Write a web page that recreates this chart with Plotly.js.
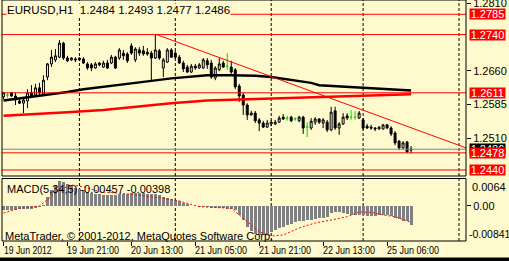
<!DOCTYPE html>
<html>
<head>
<meta charset="utf-8">
<script src="https://cdn.plot.ly/plotly-3.0.1.min.js"></script>
<style>html,body{margin:0;padding:0;background:#FFFACD;}#chart{width:509px;height:261px;}</style>
</head>
<body>
<div id="chart"></div>
<script>
// ---------- data ----------
const symbolTitle = 'EURUSD,H1  1.2484 1.2493 1.2477 1.2486';
const macdTitle = 'MACD(5,34,5) -0.00457 -0.00398';
const copyright = 'MetaTrader, \u00A9 2001-2012, MetaQuotes Software Corp.';

const openP = [1.2602,1.2606,1.2611,1.2604,1.2593,1.2588,1.2593,1.2611,1.2606,1.2622,
1.2608,1.2646,1.2675,1.2684,1.2690,1.2721,1.2688,1.2684,1.2686,1.2688,
1.2686,1.2675,1.2673,1.2666,1.2677,1.2668,1.2677,1.2677,1.2690,1.2688,
1.2699,1.2697,1.2715,1.2684,1.2706,1.2704,1.2701,1.2699,1.2688,1.2704,
1.2666,1.2679,1.2706,1.2699,1.2690,1.2677,1.2668,1.2657,1.2670,1.2666,
1.2666,1.2682,1.2677,1.2644,1.2662,1.2677,1.2670,1.2668,1.2662,1.2626,
1.2606,1.2584,1.2562,1.2566,1.2551,1.2544,1.2535,1.2542,1.2542,1.2546,
1.2557,1.2555,1.2557,1.2553,1.2549,1.2557,1.2535,1.2533,1.2546,1.2553,
1.2544,1.2546,1.2529,1.2571,1.2533,1.2542,1.2560,1.2557,1.2557,1.2555,
1.2551,1.2537,1.2535,1.2533,1.2531,1.2531,1.2540,1.2533,1.2522,1.2504,
1.2489,1.2502,1.2484];
const highP = [1.2613,1.2611,1.2613,1.2611,1.2597,1.2600,1.2619,1.2628,1.2631,1.2633,
1.2650,1.2677,1.2706,1.2708,1.2728,1.2724,1.2693,1.2690,1.2690,1.2690,
1.2690,1.2679,1.2677,1.2679,1.2679,1.2682,1.2684,1.2695,1.2693,1.2710,
1.2706,1.2701,1.2721,1.2712,1.2712,1.2715,1.2710,1.2704,1.2741,1.2708,
1.2688,1.2710,1.2710,1.2704,1.2695,1.2682,1.2673,1.2675,1.2675,1.2677,
1.2688,1.2688,1.2684,1.2670,1.2688,1.2682,1.2699,1.2682,1.2666,1.2631,
1.2611,1.2588,1.2571,1.2571,1.2555,1.2549,1.2551,1.2551,1.2551,1.2560,
1.2564,1.2560,1.2560,1.2557,1.2560,1.2560,1.2546,1.2555,1.2557,1.2555,
1.2555,1.2551,1.2580,1.2580,1.2546,1.2566,1.2566,1.2573,1.2571,1.2571,
1.2555,1.2542,1.2540,1.2535,1.2537,1.2542,1.2542,1.2537,1.2526,1.2506,
1.2504,1.2504,1.2493];
const lowP = [1.2597,1.2600,1.2602,1.2584,1.2586,1.2566,1.2577,1.2602,1.2604,1.2606,
1.2606,1.2639,1.2668,1.2679,1.2688,1.2684,1.2679,1.2682,1.2679,1.2682,
1.2675,1.2662,1.2659,1.2664,1.2670,1.2666,1.2664,1.2675,1.2664,1.2684,
1.2684,1.2677,1.2695,1.2679,1.2693,1.2693,1.2693,1.2635,1.2686,1.2684,
1.2646,1.2677,1.2688,1.2686,1.2675,1.2657,1.2655,1.2655,1.2662,1.2664,
1.2664,1.2664,1.2642,1.2639,1.2659,1.2666,1.2662,1.2650,1.2619,1.2591,
1.2562,1.2551,1.2560,1.2544,1.2526,1.2533,1.2533,1.2537,1.2540,1.2544,
1.2551,1.2549,1.2546,1.2549,1.2546,1.2520,1.2513,1.2529,1.2540,1.2542,
1.2533,1.2524,1.2526,1.2529,1.2518,1.2540,1.2551,1.2551,1.2551,1.2553,
1.2529,1.2531,1.2529,1.2526,1.2529,1.2529,1.2531,1.2515,1.2495,1.2484,
1.2487,1.2478,1.2477];
const closeP = [1.2611,1.2606,1.2604,1.2595,1.2588,1.2595,1.2611,1.2604,1.2622,1.2611,
1.2639,1.2675,1.2690,1.2693,1.2721,1.2688,1.2682,1.2688,1.2684,1.2684,
1.2677,1.2666,1.2666,1.2675,1.2673,1.2677,1.2666,1.2690,1.2666,1.2706,
1.2693,1.2682,1.2699,1.2708,1.2699,1.2697,1.2697,1.2688,1.2706,1.2688,
1.2684,1.2706,1.2690,1.2690,1.2677,1.2664,1.2657,1.2670,1.2666,1.2673,
1.2684,1.2673,1.2646,1.2666,1.2675,1.2668,1.2670,1.2657,1.2624,1.2604,
1.2584,1.2562,1.2566,1.2549,1.2544,1.2535,1.2544,1.2546,1.2546,1.2555,
1.2553,1.2555,1.2549,1.2553,1.2557,1.2533,1.2535,1.2548,1.2553,1.2546,
1.2551,1.2529,1.2568,1.2533,1.2542,1.2557,1.2555,1.2557,1.2557,1.2566,
1.2533,1.2533,1.2533,1.2531,1.2535,1.2540,1.2533,1.2520,1.2500,1.2489,
1.2500,1.2480,1.2486];

// moving averages
const maBlackX = [0,7,12,16,20,25,33,42,51,57,63,67,71,77,79,93,102];
const maBlackY = [1.2594,1.2602,1.2608,1.2613,1.2619,1.2624,1.2633,1.2643,1.2650,1.2650,1.2649,1.2646,1.2641,1.2633,1.2628,1.2621,1.2616];
const maRedX = [0,7,16,25,33,42,51,62,73,79,87,93,102];
const maRedY = [1.2560,1.2563,1.2568,1.2573,1.2580,1.2588,1.2594,1.2597,1.2601,1.2603,1.2605,1.2606,1.2608];

// MACD histogram and signal
const macdHist = [
-0.00100,-0.00100,-0.00112,-0.00100,-0.00088,-0.00076,-0.00065,-0.00065,-0.00041,-0.00029,
0.00019,0.00210,0.00377,0.00497,0.00581,0.00569,0.00509,0.00473,0.00437,0.00401,
0.00366,0.00330,0.00306,0.00282,0.00270,0.00258,0.00258,0.00258,0.00258,0.00270,
0.00282,0.00282,0.00294,0.00294,0.00294,0.00294,0.00282,0.00270,0.00282,0.00258,
0.00210,0.00198,0.00174,0.00139,0.00103,0.00067,0.00031,0.00007,-0.00005,-0.00017,
-0.00017,-0.00029,-0.00041,-0.00053,-0.00053,-0.00053,-0.00065,-0.00076,-0.00112,-0.00208,
-0.00339,-0.00506,-0.00614,-0.00674,-0.00698,-0.00686,-0.00662,-0.00626,-0.00578,-0.00530,
-0.00495,-0.00459,-0.00435,-0.00399,-0.00375,-0.00363,-0.00351,-0.00339,-0.00315,-0.00303,
-0.00280,-0.00256,-0.00184,-0.00148,-0.00160,-0.00172,-0.00196,-0.00208,-0.00220,-0.00208,
-0.00220,-0.00232,-0.00232,-0.00232,-0.00220,-0.00208,-0.00220,-0.00244,-0.00280,-0.00315,
-0.00363,-0.00375,-0.00457];
const sigX = [0,4,9,11,14,17,20,24,32,40,44,49,57,61,64,67,70,74,78,82,86,89,92,95,98,102];
const sigY = [-0.00172,-0.00060,-0.00005,0.00139,0.00377,0.00497,0.00456,0.00337,0.00275,0.00179,0.00115,-0.00021,-0.00060,-0.00380,-0.00619,-0.00721,-0.00698,-0.00530,-0.00411,-0.00339,-0.00260,-0.00148,-0.00155,-0.00220,-0.00260,-0.00398];

// objects
const hLevels = [1.2785,1.2740,1.2611,1.2478,1.2440];
const bidPrice = 1.2486;
const trendX = [38,115.75];
const trendY = [1.2741,1.2489];
const daySeparators = [19,43,67,90,114];

// axes
const xTickIdx = [0,16,32,48,64,80,96];
const xTickText = ['19 Jun 2012','19 Jun 21:00','20 Jun 13:00','21 Jun 05:00','21 Jun 21:00','22 Jun 13:00','25 Jun 06:00'];
const priceTicks = [1.2810,1.2660,1.2585,1.2510];
const macdTicks = [0];
const macdTickText = ['0.00'];
const macdMaxLabel = '0.0064';
const macdMinLabel = '-0.00841';

// ---------- drawing ----------
const BG = '#FFFACD';
const FONT = '"Liberation Sans Narrow", "Liberation Sans", Arial, sans-serif';
const idx = openP.map((_, i) => i);
const body = idx.filter(i => openP[i] !== closeP[i]);
const doji = idx.filter(i => openP[i] === closeP[i]);
const pick = (arr, ids) => ids.map(i => arr[i]);

const traces = [
  {type:'scatter', mode:'lines', x:maRedX, y:maRedY, line:{color:'#ff0000', width:2.5}, xaxis:'x', yaxis:'y', hoverinfo:'skip'},
  {type:'scatter', mode:'lines', x:maBlackX, y:maBlackY, line:{color:'#000000', width:2.5}, xaxis:'x', yaxis:'y', hoverinfo:'skip'},
  {type:'candlestick', x:body, open:pick(openP,body), high:pick(highP,body), low:pick(lowP,body), close:pick(closeP,body),
   increasing:{line:{color:'#000000', width:1}, fillcolor:BG},
   decreasing:{line:{color:'#000000', width:1}, fillcolor:'#000000'},
   whiskerwidth:0, xaxis:'x', yaxis:'y', hoverinfo:'skip'},
  {type:'candlestick', x:doji, open:pick(openP,doji), high:pick(highP,doji), low:pick(lowP,doji), close:pick(closeP,doji),
   increasing:{line:{color:'#00e000', width:1}, fillcolor:'#00e000'},
   decreasing:{line:{color:'#00e000', width:1}, fillcolor:'#00e000'},
   whiskerwidth:0, xaxis:'x', yaxis:'y', hoverinfo:'skip'},
  {type:'bar', x:idx, y:macdHist, width:0.75, marker:{color:'#808080', line:{width:0}}, xaxis:'x2', yaxis:'y2', hoverinfo:'skip'},
  {type:'scatter', mode:'lines', x:sigX, y:sigY, line:{color:'#ff0000', width:1, dash:'2px,2px'}, xaxis:'x2', yaxis:'y2', hoverinfo:'skip'}
];

const MAIN_DOM = [0.2697, 1];
const MACD_DOM = [0, 0.2593];
const XR = [-0.375, 115.75];

const shapes = [];
daySeparators.forEach(s => {
  shapes.push({type:'line', layer:'below', xref:'x', yref:'paper', x0:s, x1:s, y0:MAIN_DOM[0], y1:MAIN_DOM[1], line:{color:'#000000', width:1, dash:'3px,2px'}});
  shapes.push({type:'line', layer:'below', xref:'x2', yref:'paper', x0:s, x1:s, y0:MACD_DOM[0], y1:MACD_DOM[1], line:{color:'#000000', width:1, dash:'3px,2px'}});
});
shapes.push({type:'line', xref:'paper', yref:'y', x0:0, x1:1, y0:bidPrice, y1:bidPrice, line:{color:'#778899', width:1}});
hLevels.forEach(l => shapes.push({type:'line', xref:'paper', yref:'y', x0:0, x1:1, y0:l, y1:l, line:{color:'#ff0000', width:1}}));
shapes.push({type:'line', xref:'x', yref:'y', x0:trendX[0], x1:trendX[1], y0:trendY[0], y1:trendY[1], line:{color:'#ff0000', width:1}});
shapes.push({type:'rect', xref:'paper', yref:'paper', x0:0, x1:1, y0:MAIN_DOM[0], y1:MAIN_DOM[1], line:{color:'#000000', width:1}});
shapes.push({type:'rect', xref:'paper', yref:'paper', x0:0, x1:1, y0:MACD_DOM[0], y1:MACD_DOM[1], line:{color:'#000000', width:1}});
shapes.push({type:'rect', xref:'paper', yref:'paper', x0:-0.01, x1:1.1, y0:-0.09, y1:-0.068, fillcolor:'#000000', line:{width:0}});

const annotations = [];
annotations.push({xref:'paper', yref:'paper', x:0, y:1, xanchor:'left', yanchor:'top', xshift:4, yshift:-3,
  text:symbolTitle, showarrow:false, bgcolor:BG, borderpad:0, font:{family:FONT, size:11.5, color:'#000000'}});
annotations.push({xref:'paper', yref:'paper', x:0, y:MACD_DOM[1], xanchor:'left', yanchor:'top', xshift:4, yshift:-3,
  text:macdTitle, showarrow:false, borderpad:0, font:{family:FONT, size:11, color:'#000000'}});
annotations.push({xref:'paper', yref:'paper', x:0, y:0, xanchor:'left', yanchor:'bottom', xshift:2, yshift:-2,
  text:copyright, showarrow:false, borderpad:0, font:{family:FONT, size:11, color:'#000000'}});
// x-axis labels (left aligned at their ticks, MetaTrader style)
xTickIdx.forEach((t, k) => annotations.push({xref:'x2', yref:'paper', x:t, y:0, xanchor:'left', yanchor:'top', xshift:-1, yshift:-2,
  text:xTickText[k], showarrow:false, borderpad:0, font:{family:FONT, size:11, color:'#000000'}}));
// price boxes
annotations.push({xref:'paper', yref:'y', x:1, y:bidPrice, xanchor:'left', yanchor:'middle', xshift:3,
  text:bidPrice.toFixed(4), showarrow:false, bgcolor:'#000000', borderpad:0, width:35, height:10, font:{family:FONT, size:11, color:'#ffffff'}});
hLevels.forEach(l => annotations.push({xref:'paper', yref:'y', x:1, y:l, xanchor:'left', yanchor:'middle', xshift:3,
  text:l.toFixed(4), showarrow:false, bgcolor:'#ff0000', borderpad:0, width:35, height:10, font:{family:FONT, size:11, color:'#ffffff'}}));
annotations.push({xref:'paper', yref:'y2', x:1, y:0.00652, xanchor:'left', yanchor:'top', xshift:5, yshift:-1,
  text:macdMaxLabel, showarrow:false, borderpad:0, font:{family:FONT, size:11, color:'#000000'}});
annotations.push({xref:'paper', yref:'y2', x:1, y:-0.00841, xanchor:'left', yanchor:'bottom', xshift:2, yshift:0,
  text:macdMinLabel, showarrow:false, borderpad:0, font:{family:FONT, size:10.5, color:'#000000'}});

const layout = {
  width:509, height:261,
  margin:{l:2, r:43, t:0, b:20, pad:0},
  paper_bgcolor:BG, plot_bgcolor:BG,
  showlegend:false,
  font:{family:FONT, size:11, color:'#000000'},
  xaxis:{domain:[0,1], anchor:'y', range:XR, showticklabels:false, ticks:'', showgrid:false, zeroline:false, showline:false, rangeslider:{visible:false}},
  xaxis2:{domain:[0,1], anchor:'y2', range:XR, tickmode:'array', tickvals:xTickIdx, showticklabels:false, ticks:'outside', ticklen:4, tickcolor:'#000000', tickwidth:1,
    showgrid:false, zeroline:false, showline:false},
  yaxis:{domain:MAIN_DOM, anchor:'x', range:[1.242667,1.281665], side:'right', tickmode:'array', tickvals:priceTicks, ticktext:priceTicks.map(v=>v.toFixed(4)),
    ticks:'outside', ticklen:4, tickcolor:'#000000', ticklabeloverflow:'allow', tickfont:{family:FONT, size:11, color:'#000000'}, showgrid:false, zeroline:false, showline:false},
  yaxis2:{domain:MACD_DOM, anchor:'x2', range:[-0.00841,0.00652], side:'right', tickmode:'array', tickvals:macdTicks, ticktext:macdTickText,
    ticks:'outside', ticklen:4, tickcolor:'#000000', ticklabeloverflow:'allow', tickfont:{family:FONT, size:11, color:'#000000'}, showgrid:false, zeroline:false, showline:false},
  bargap:0,
  shapes:shapes,
  annotations:annotations
};

Plotly.newPlot('chart', traces, layout, {staticPlot:true, displayModeBar:false}).then(gd => {
  // the date labels in the reference are condensed (about 52 px for "19 Jun 21:00");
  // if the renderer set them wider, squeeze them horizontally and keep their left edge at the tick
  const nodes = Array.from(gd.querySelectorAll('text.annotation-text'));
  nodes.forEach(n => {
    const k = xTickText.indexOf(n.textContent);
    if (k < 0 || !n.getComputedTextLength) return;
    const w = n.getComputedTextLength();
    const target = 52 * n.textContent.length / 12;
    if (w > target * 1.06) {
      const before = n.getBBox();
      n.setAttribute('textLength', String(target));
      n.setAttribute('lengthAdjust', 'spacingAndGlyphs');
      const after = n.getBBox();
      const dx = before.x - after.x;
      const t0 = n.getAttribute('transform') || '';
      n.setAttribute('transform', (t0 + ' translate(' + dx.toFixed(2) + ',0)').trim());
    }
  });
});
</script>
</body>
</html>
